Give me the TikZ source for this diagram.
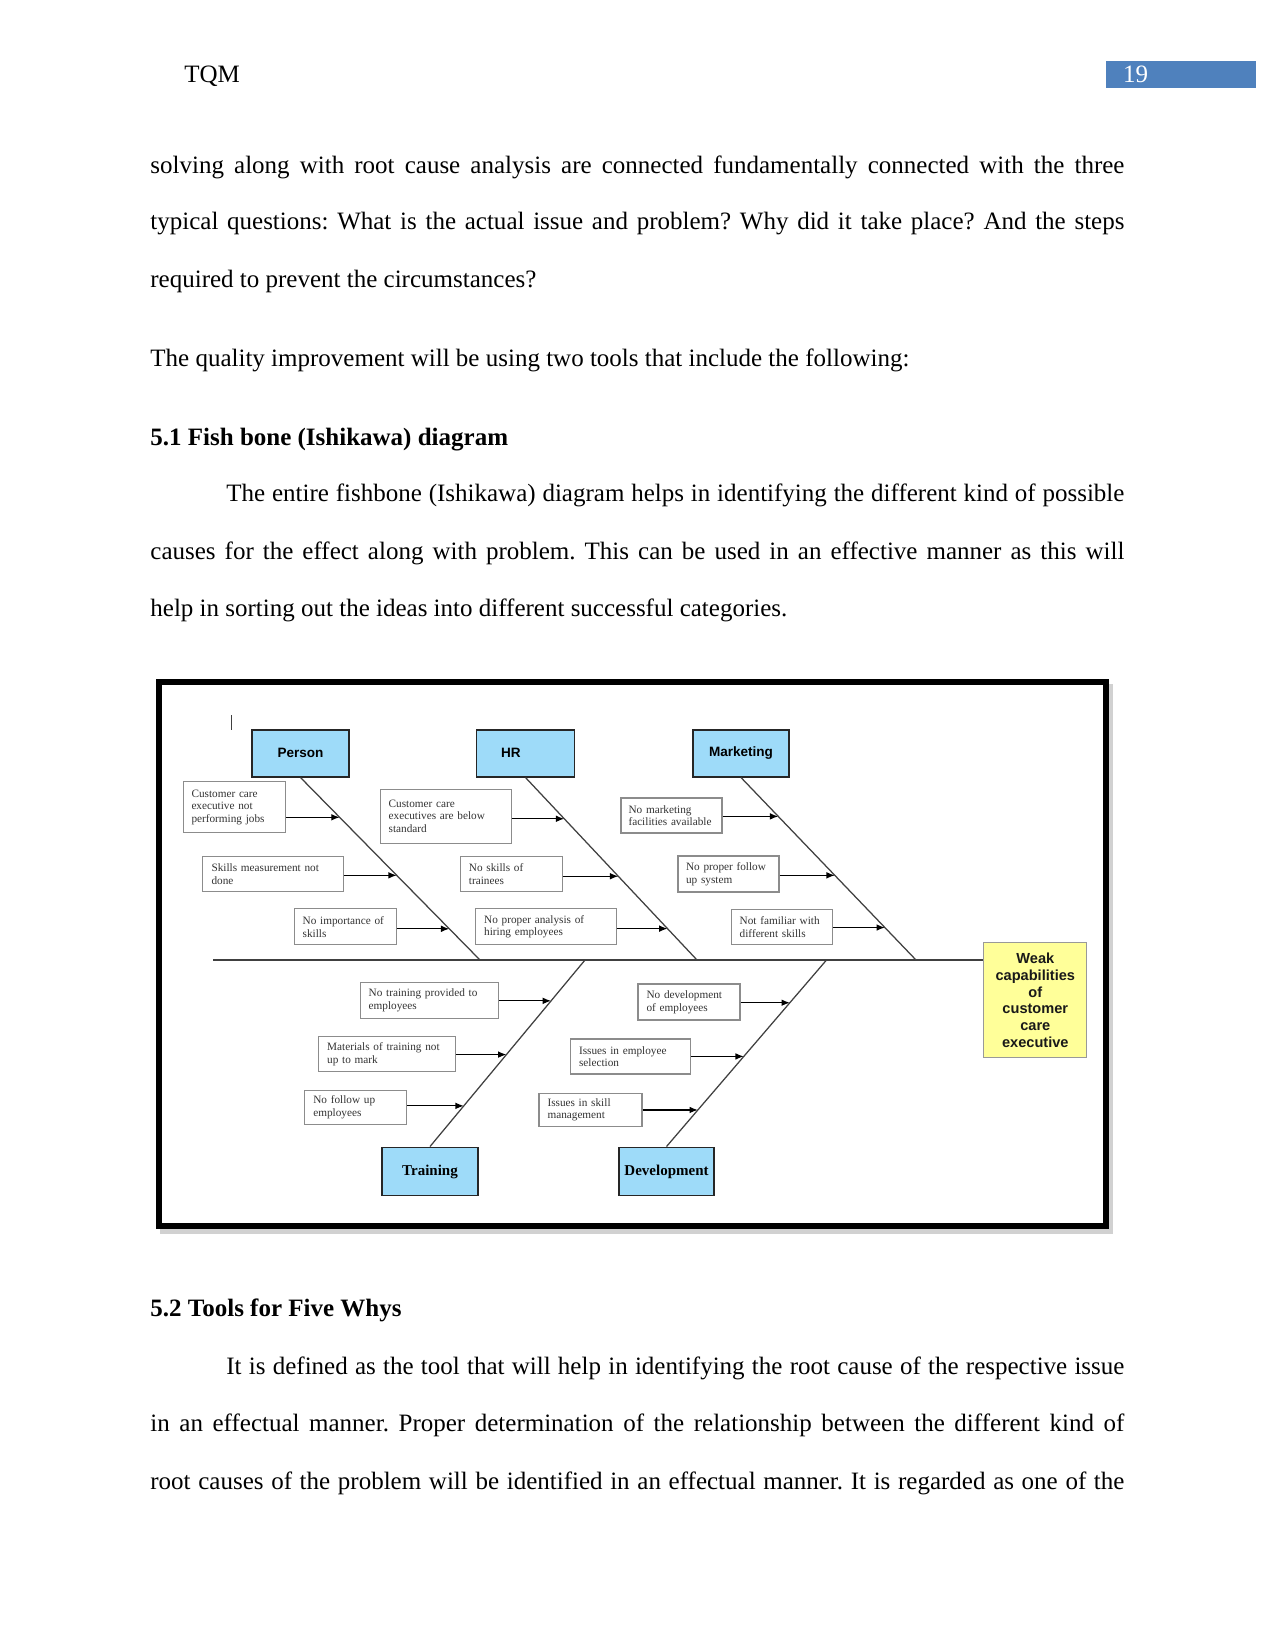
\documentclass[tikz,border=0pt]{standalone}
\usepackage{fontspec}
\setmainfont{Liberation Serif}
\setsansfont{Liberation Sans}
\usetikzlibrary{calc,arrows.meta}
\newlength\px
\setlength\px{0.48pt}
\definecolor{catblue}{RGB}{158,219,249}
\definecolor{effectyellow}{RGB}{255,255,153}
\definecolor{pagebox}{RGB}{79,129,189}
\newcommand\causefont{\fontsize{5.4}{6.1}\selectfont}
\frenchspacing
\begin{document}
\begin{tikzpicture}[x=0.48pt, y=-0.48pt,
  txt/.style = {anchor=base west, inner sep=0pt, font=\fontsize{12}{14}\selectfont},
  head/.style = {txt, font=\fontsize{12}{14}\selectfont\bfseries},
  cat/.style = {draw=black!85, fill=catblue, line width=0.7pt, inner sep=0pt, font=\sffamily\bfseries\fontsize{6.5}{7.8}\selectfont},
  catrm/.style = {cat, font=\rmfamily\bfseries\fontsize{7.2}{8}\selectfont},
  cause/.style = {draw=black!45, fill=white, line width=0.5pt, inner sep=0pt, align=left, text=black!80, font=\causefont},
  bone/.style = {draw=black!75, line width=0.6pt},
  cue/.style = {-{Latex[length=4pt,width=3.2pt]}, line width=0.6pt}]
\useasboundingbox (0,0) rectangle (1275,1651);

% running head
\node[txt] (runhead) at (184,83) {TQM};
\node[fill=pagebox, minimum width=150\px, minimum height=27.3\px, inner sep=0pt] (pagenum) at (1181,74.6) {};
\node[txt, text=white] (pagenumtext) at (1122.7,82.7) {19};

% text above the figure
\node[txt] (l1) at (150,173.3) {\makebox[974\px][s]{solving along with root cause analysis are connected fundamentally connected with the three}};
\node[txt] (l2) at (150,230) {\makebox[974\px][s]{typical questions: What is the actual issue and problem? Why did it take place? And the steps}};
\node[txt] (l3) at (150,287.3) {required to prevent the circumstances?};
\node[txt] (l4) at (150,366) {The quality improvement will be using two tools that include the following:};
\node[head] (h1) at (150,445) {5.1 Fish bone (Ishikawa) diagram};
\node[txt] (l5) at (226,501.7) {\makebox[898\px][s]{The entire fishbone (Ishikawa) diagram helps in identifying the different kind of possible}};
\node[txt] (l6) at (150,559.3) {\makebox[974\px][s]{causes for the effect along with problem. This can be used in an effective manner as this will}};
\node[txt] (l7) at (150,616.7) {help in sorting out the ideas into different successful categories.};

% figure frame
\draw[black!18, line width=6\px] (163,687) rectangle (1110,1231);
\draw[fill=white, line width=6\px] (159,682) rectangle (1106,1226);
\draw[black!75, line width=0.5pt] (231.7,715) -- (231.7,730);

% fish bone
\node[draw=black!40, fill=effectyellow, line width=0.5pt, minimum width=103\px, minimum height=115\px, inner sep=0pt, align=center, text=black!90, font=\sffamily\bfseries\fontsize{7}{8.06}\selectfont] (effect) at (1035.3,1000.2) {Weak\\capabilities\\of\\customer\\care\\executive};
\coordinate (tail) at (213.3,960);
\coordinate (head) at (tail -| effect.west);
\draw[bone] (tail) -- (head);

\node[cat, minimum width=97\px, minimum height=47\px] (person) at (300.5,753.3) {Person};
\node[cat, minimum width=97.6\px, minimum height=47\px, text width=49\px, align=left] (hr) at (525.5,753.3) {HR};
\node[cat, minimum width=96\px, minimum height=47\px] (marketing) at (741,753.3) {Marketing};
\node[catrm, minimum width=96\px, minimum height=48.5\px] (training) at (430,1171.5) {Training};
\node[catrm, minimum width=95\px, minimum height=48.5\px] (development) at (666.5,1171.5) {Development};

\coordinate (sp-p) at (480,960);
\coordinate (sp-h) at (697,960);
\coordinate (sp-m) at (916,960);
\coordinate (sp-t) at (585,960);
\coordinate (sp-d) at (826.5,960);
\draw[bone] (person.south) -- (sp-p);
\draw[bone] (hr.south) -- (sp-h);
\draw[bone] (marketing.south) -- (sp-m);
\draw[bone] (training.north) -- (sp-t);
\draw[bone] (development.north) -- (sp-d);

% causes
\node[cause, minimum width=102.4\px, minimum height=51\px, text width=86\px] (pc1) at (234.5,807.2) {Customer care\\executive not\\performing jobs};
\node[cause, minimum width=140.6\px, minimum height=35\px, text width=123\px] (pc2) at (273,874.2) {Skills measurement not\\done};
\node[cause, minimum width=101.7\px, minimum height=35.7\px, text width=85\px] (pc3) at (345.2,926.8) {No importance of\\skills};
\node[cause, minimum width=131.3\px, minimum height=54\px, text width=114\px] (hc1) at (445.7,816.3) {Customer care\\executives are below\\standard};
\node[cause, minimum width=101.8\px, minimum height=35\px, text width=85\px] (hc2) at (511.4,874.2) {No skills of\\trainees};
\node[cause, minimum width=140.7\px, minimum height=35.7\px, text width=123\px] (hc3) at (545.7,926.8) {No proper analysis of\\hiring employees};
\node[cause, minimum width=101\px, minimum height=35\px, text width=86\px] (mc1) at (671.5,815.5) {No marketing\\facilities available};
\node[cause, minimum width=101\px, minimum height=36\px, text width=85\px] (mc2) at (728.5,874) {No proper follow\\up system};
\node[cause, minimum width=101\px, minimum height=35\px, text width=85\px] (mc3) at (782.2,927) {Not familiar with\\different skills};
\node[cause, minimum width=138.3\px, minimum height=35.6\px, text width=121\px] (tc1) at (429.2,1000.5) {No training provided to\\employees};
\node[cause, minimum width=136.7\px, minimum height=35.3\px, text width=119\px] (tc2) at (386.7,1054.3) {Materials of training not\\up to mark};
\node[cause, minimum width=101.7\px, minimum height=34.3\px, text width=85\px] (tc3) at (355.8,1107.2) {No follow up\\employees};
\node[cause, minimum width=102\px, minimum height=36\px, text width=85\px] (dc1) at (689,1002) {No development\\of employees};
\node[cause, minimum width=120\px, minimum height=35\px, text width=103\px] (dc2) at (630.6,1056.5) {Issues in employee\\selection};
\node[cause, minimum width=103\px, minimum height=33.5\px, text width=86\px] (dc3) at (590.5,1109.8) {Issues in skill\\management};

\coordinate (p1) at ($(person.south)!0.218!(sp-p)$);
\coordinate (p2) at ($(person.south)!0.536!(sp-p)$);
\coordinate (p3) at ($(person.south)!0.829!(sp-p)$);
\coordinate (h1) at ($(hr.south)!0.226!(sp-h)$);
\coordinate (h2) at ($(hr.south)!0.541!(sp-h)$);
\coordinate (h3) at ($(hr.south)!0.828!(sp-h)$);
\coordinate (m1) at ($(marketing.south)!0.213!(sp-m)$);
\coordinate (m2) at ($(marketing.south)!0.536!(sp-m)$);
\coordinate (m3) at ($(marketing.south)!0.822!(sp-m)$);
\coordinate (t1) at ($(training.north)!0.781!(sp-t)$);
\coordinate (t2) at ($(training.north)!0.493!(sp-t)$);
\coordinate (t3) at ($(training.north)!0.218!(sp-t)$);
\coordinate (d1) at ($(development.north)!0.771!(sp-d)$);
\coordinate (d2) at ($(development.north)!0.483!(sp-d)$);
\coordinate (d3) at ($(development.north)!0.196!(sp-d)$);

\draw[cue] (pc1.east |- p1) -- (p1);
\draw[cue] (pc2.east |- p2) -- (p2);
\draw[cue] (pc3.east |- p3) -- (p3);
\draw[cue] (hc1.east |- h1) -- (h1);
\draw[cue] (hc2.east |- h2) -- (h2);
\draw[cue] (hc3.east |- h3) -- (h3);
\draw[cue] (mc1.east |- m1) -- (m1);
\draw[cue] (mc2.east |- m2) -- (m2);
\draw[cue] (mc3.east |- m3) -- (m3);
\draw[cue] (tc1.east |- t1) -- (t1);
\draw[cue] (tc2.east |- t2) -- (t2);
\draw[cue] (tc3.east |- t3) -- (t3);
\draw[cue] (dc1.east |- d1) -- (d1);
\draw[cue] (dc2.east |- d2) -- (d2);
\draw[cue] (dc3.east |- d3) -- (d3);

% text below the figure
\node[head] (h52) at (150,1316.7) {5.2 Tools for Five Whys};
\node[txt] (l8) at (226,1374.3) {\makebox[898\px][s]{It is defined as the tool that will help in identifying the root cause of the respective issue}};
\node[txt] (l9) at (150,1431.7) {\makebox[974\px][s]{in an effectual manner. Proper determination of the relationship between the different kind of}};
\node[txt] (l10) at (150,1489.3) {\makebox[974\px][s]{root causes of the problem will be identified in an effectual manner. It is regarded as one of the}};
\end{tikzpicture}
\end{document}
